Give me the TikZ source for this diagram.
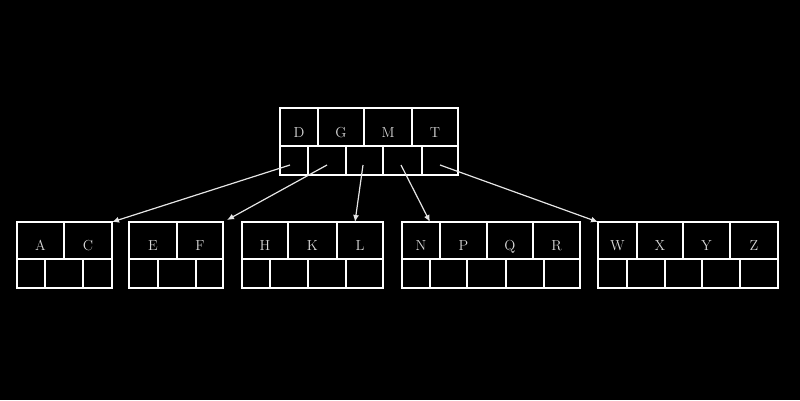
\documentclass[tikz,border=0pt]{standalone}
\usetikzlibrary{arrows.meta}
\begin{document}
\begin{tikzpicture}[x=1pt,y=-1pt,
  cell/.style={draw=white, line width=2pt, inner sep=0pt, outer sep=0pt, anchor=north west,
    text=white!85!black, font=\fontsize{14.5}{14.5}\selectfont, text height=20pt, text depth=0pt},
  top/.style={cell, minimum height=38pt, minimum width=#1},
  ctop/.style={cell, minimum height=37pt, minimum width=#1},
  bot/.style={cell, minimum height=29pt, minimum width=#1},
  ptr/.style={draw=white!90!black, line width=1.2pt, -{Latex[length=7pt,width=6pt]}}]
\fill[black] (0,0) rectangle (800,400);
\useasboundingbox (0,0) rectangle (800,400);
% root
\node[top=38pt] (rD) at (280,108) {D};
\node[top=46pt] (rG) at (318,108) {G};
\node[top=48pt] (rM) at (364,108) {M};
\node[top=46pt] (rT) at (412,108) {T};
\node[bot=28pt] (rp1) at (280,146) {};
\node[bot=38pt] (rp2) at (308,146) {};
\node[bot=37pt] (rp3) at (346,146) {};
\node[bot=39pt] (rp4) at (383,146) {};
\node[bot=36pt] (rp5) at (422,146) {};
% AC
\node[ctop=47pt] (cA) at (17,222) {A};
\node[ctop=48pt] (cC) at (64,222) {C};
\node[bot=28pt] (a1) at (17,259) {};
\node[bot=38pt] (a2) at (45,259) {};
\node[bot=29pt] (a3) at (83,259) {};
% EF
\node[ctop=48pt] (cE) at (129,222) {E};
\node[ctop=46pt] (cF) at (177,222) {F};
\node[bot=29pt] (e1) at (129,259) {};
\node[bot=38pt] (e2) at (158,259) {};
\node[bot=27pt] (e3) at (196,259) {};
% HKL
\node[ctop=46pt] (cH) at (242,222) {H};
\node[ctop=49pt] (cK) at (288,222) {K};
\node[ctop=46pt] (cL) at (337,222) {L};
\node[bot=28pt] (h1) at (242,259) {};
\node[bot=38pt] (h2) at (270,259) {};
\node[bot=38pt] (h3) at (308,259) {};
\node[bot=37pt] (h4) at (346,259) {};
% NPQR
\node[ctop=38pt] (cN) at (402,222) {N};
\node[ctop=47pt] (cP) at (440,222) {P};
\node[ctop=46pt] (cQ) at (487,222) {Q};
\node[ctop=47pt] (cR) at (533,222) {R};
\node[bot=28pt] (n1) at (402,259) {};
\node[bot=37pt] (n2) at (430,259) {};
\node[bot=39pt] (n3) at (467,259) {};
\node[bot=38pt] (n4) at (506,259) {};
\node[bot=36pt] (n5) at (544,259) {};
% WXYZ
\node[ctop=39pt] (cW) at (598,222) {W};
\node[ctop=46pt] (cX) at (637,222) {X};
\node[ctop=47pt] (cY) at (683,222) {Y};
\node[ctop=48pt] (cZ) at (730,222) {Z};
\node[bot=29pt] (w1) at (598,259) {};
\node[bot=38pt] (w2) at (627,259) {};
\node[bot=37pt] (w3) at (665,259) {};
\node[bot=38pt] (w4) at (702,259) {};
\node[bot=38pt] (w5) at (740,259) {};
% pointer starts
\coordinate (s1) at (290,165);
\coordinate (s2) at (327,165);
\coordinate (s3) at (363,165);
\coordinate (s4) at (401,165);
\coordinate (s5) at (440,165);
\draw[ptr] (s1) -- (cC.north east);
\draw[ptr] (s2) -- ([xshift=4pt,yshift=2pt]cF.north east);
\draw[ptr] (s3) -- ([xshift=-5pt]cL.north);
\draw[ptr] (s4) -- ([xshift=-10pt]cN.north east);
\draw[ptr] (s5) -- (cW.north west);
\end{tikzpicture}
\end{document}
